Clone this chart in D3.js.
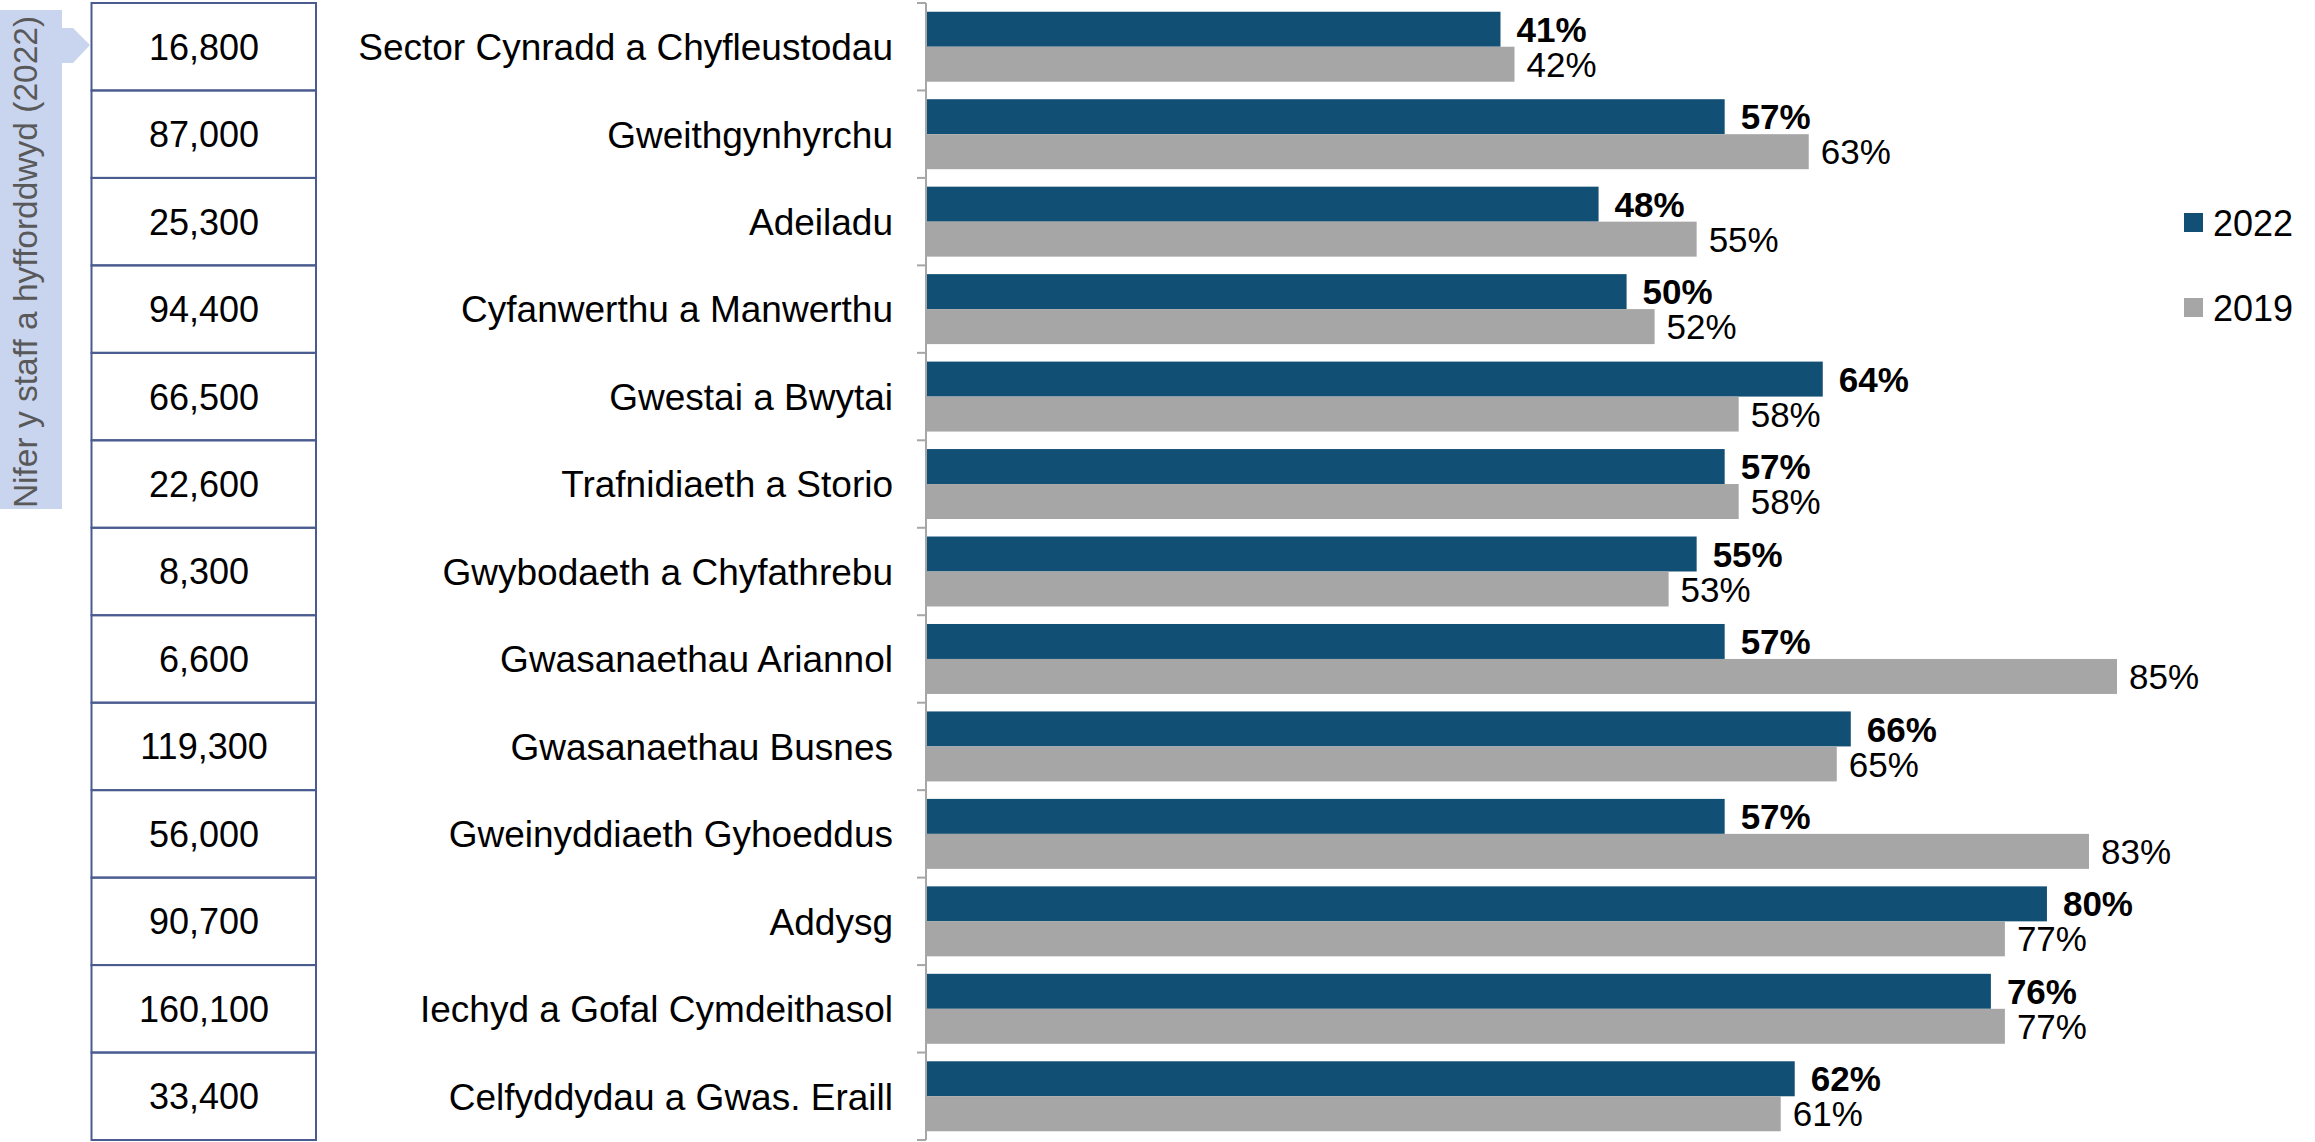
<!DOCTYPE html>
<html>
<head>
<meta charset="utf-8">
<script src="https://cdn.jsdelivr.net/npm/d3@7"></script>
<style>
  body { margin: 0; background: #fff; }
  svg { display: block; font-family: "Liberation Sans", Arial, sans-serif; }
</style>
</head>
<body>
<div id="main"></div>
<script>
// chart data
const sectors = [
  'Sector Cynradd a Chyfleustodau', 'Gweithgynhyrchu', 'Adeiladu',
  'Cyfanwerthu a Manwerthu', 'Gwestai a Bwytai', 'Trafnidiaeth a Storio',
  'Gwybodaeth a Chyfathrebu', 'Gwasanaethau Ariannol', 'Gwasanaethau Busnes',
  'Gweinyddiaeth Gyhoeddus', 'Addysg', 'Iechyd a Gofal Cymdeithasol',
  'Celfyddydau a Gwas. Eraill'
];
const values2022 = [41, 57, 48, 50, 64, 57, 55, 57, 66, 57, 80, 76, 62];
const values2019 = [42, 63, 55, 52, 58, 58, 53, 85, 65, 83, 77, 77, 61];
const staffTrained = ['16,800', '87,000', '25,300', '94,400', '66,500', '22,600',
  '8,300', '6,600', '119,300', '56,000', '90,700', '160,100', '33,400'];
const seriesNames = ['2022', '2019'];
const sideTitle = 'Nifer y staff a hyfforddwyd (2022)';

const W = 2315, H = 1142;
const colors = {'2022': '#124F74', '2019': '#A6A6A6'};

let svg = d3.select('#main').append('svg').attr('width', W).attr('height', H);

let y = d3.scaleBand().domain(sectors).range([3, 1140]).paddingInner(0.2).paddingOuter(0.1);
let rowY = d3.scaleBand().domain(sectors).range([3, 1140]);
let ySeries = d3.scaleBand().domain(seriesNames).range([0, y.bandwidth()]);
let x = d3.scaleLinear().domain([0, 85]).range([926, 2117]);

let rows = sectors.map((s, i) => ({sector: s, staff: staffTrained[i], v2022: values2022[i], v2019: values2019[i]}));

// side label box with arrow
let box = svg.append('g');
box.append('path')
  .attr('d', 'M0,10 L62,10 L62,28 L73,28 L90,45 L73,63 L62,63 L62,509 L0,509 Z')
  .attr('fill', '#C9D5EF');
box.append('text')
  .attr('transform', 'translate(37,262) rotate(-90)')
  .attr('text-anchor', 'middle')
  .style('font-size', '33.5px')
  .style('fill', '#595959')
  .text(sideTitle);

// staff table
let table = svg.append('g');
table.selectAll('rect').data(rows).join('rect')
  .attr('x', 91.5).attr('y', d => rowY(d.sector))
  .attr('width', 224.5).attr('height', rowY.bandwidth())
  .attr('fill', 'none').attr('stroke', '#4A5C8F').attr('stroke-width', 2);
table.selectAll('text').data(rows).join('text')
  .attr('x', 204).attr('y', d => rowY(d.sector) + rowY.bandwidth() / 2)
  .attr('dy', '0.36em').attr('text-anchor', 'middle')
  .style('font-size', '36px').text(d => d.staff);

// category labels
svg.append('g').selectAll('text').data(rows).join('text')
  .attr('x', 893).attr('y', d => rowY(d.sector) + rowY.bandwidth() / 2)
  .attr('dy', '0.36em').attr('text-anchor', 'end')
  .style('font-size', '37px').text(d => d.sector);

// bars
let groups = svg.append('g').selectAll('g').data(rows).join('g')
  .attr('transform', d => `translate(0,${y(d.sector)})`);

groups.selectAll('rect').data(d => seriesNames.map(k => ({key: k, value: d['v' + k]}))).join('rect')
  .attr('x', x(0)).attr('y', d => ySeries(d.key))
  .attr('width', d => x(d.value) - x(0)).attr('height', ySeries.bandwidth())
  .attr('fill', d => colors[d.key]);

groups.selectAll('text').data(d => seriesNames.map(k => ({key: k, value: d['v' + k]}))).join('text')
  .attr('x', d => x(d.value) + (d.key === '2022' ? 16 : 12))
  .attr('y', d => ySeries(d.key) + ySeries.bandwidth() / 2)
  .attr('dy', '0.36em')
  .style('font-size', '35px')
  .style('font-weight', d => d.key === '2022' ? 'bold' : 'normal')
  .text(d => d.value + '%');

// axis
let axis = svg.append('g');
axis.append('line').attr('x1', x(0)).attr('x2', x(0)).attr('y1', 3).attr('y2', 1140)
  .attr('stroke', '#A6A6A6').attr('stroke-width', 2);
let ticks = sectors.map(s => rowY(s)).concat([1140]);
axis.selectAll('line.tick').data(ticks).join('line').classed('tick', true)
  .attr('x1', x(0) - 9).attr('x2', x(0)).attr('y1', d => d).attr('y2', d => d)
  .attr('stroke', '#A6A6A6').attr('stroke-width', 2);

// legend
let legend = svg.append('g').selectAll('g').data(seriesNames).join('g')
  .attr('transform', (d, i) => `translate(2184,${213 + i * 85})`);
legend.append('rect').attr('width', 19).attr('height', 19).attr('fill', d => colors[d]);
legend.append('text').attr('x', 29).attr('y', 10).attr('dy', '0.36em')
  .style('font-size', '36px').text(d => d);
</script>
</body>
</html>
